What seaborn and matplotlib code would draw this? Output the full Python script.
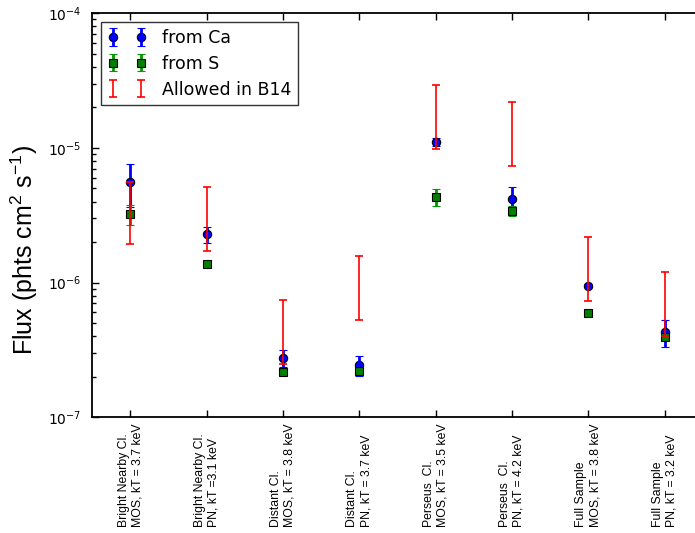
import numpy as np
import matplotlib
matplotlib.use('Agg')
import matplotlib.pyplot as plt
import matplotlib.ticker as mticker
import matplotlib.transforms as mtransforms
import seaborn as sns

# -- Data --------------------------------------------------------------------
samples = [
    'Bright Nearby Cl.\nMOS, kT = 3.7 keV',
    'Bright Nearby Cl.\nPN, kT =3.1 keV',
    'Distant Cl.\nMOS, kT = 3.8 keV',
    'Distant Cl.\nPN, kT = 3.7 keV',
    'Perseus  Cl.\nMOS, kT = 3.5 keV',
    'Perseus  Cl.\nPN, kT = 4.2 keV',
    'Full Sample\nMOS, kT = 3.8 keV',
    'Full Sample\nPN, kT = 3.2 keV',
]

# flux inferred from Ca line, with lower / upper bounds
ca_flux = [5.62e-6, 2.29e-6, 2.77e-7, 2.45e-7, 1.11e-5, 4.18e-6, 9.50e-7, 4.33e-7]
ca_low  = [3.63e-6, 1.98e-6, 2.38e-7, 2.03e-7, 1.04e-5, 3.65e-6, 9.20e-7, 3.35e-7]
ca_high = [7.64e-6, 2.58e-6, 3.16e-7, 2.84e-7, 1.18e-5, 5.16e-6, 9.80e-7, 5.26e-7]

# flux inferred from S line
s_flux = [3.24e-6, 1.37e-6, 2.18e-7, 2.22e-7, 4.35e-6, 3.42e-6, 5.98e-7, 3.97e-7]
s_low  = [2.68e-6, 1.33e-6, 2.12e-7, 2.12e-7, 3.71e-6, 3.13e-6, 5.85e-7, 3.80e-7]
s_high = [3.76e-6, 1.41e-6, 2.24e-7, 2.32e-7, 4.99e-6, 3.72e-6, 6.11e-7, 4.14e-7]

# range allowed in B14
b14_low  = [1.93e-6, 1.71e-6, 2.48e-7, 5.26e-7, 9.78e-6, 7.39e-6, 7.28e-7, 4.02e-7]
b14_high = [5.62e-6, 5.11e-6, 7.48e-7, 1.58e-6, 2.94e-5, 2.21e-5, 2.17e-6, 1.19e-6]

# -- Style --------------------------------------------------------------------
sns.set_style('ticks')
plt.rcParams['font.family'] = ['DejaVu Sans']
plt.rcParams['mathtext.default'] = 'regular'
for key in ['text.color', 'axes.labelcolor', 'xtick.color', 'ytick.color',
            'axes.edgecolor']:
    plt.rcParams[key] = 'black'

fig = plt.figure(figsize=(6.95, 5.33), dpi=100)
ax = fig.add_axes([0.1328, 0.2171, 0.8784, 0.758])

x = np.arange(len(samples))
ca_flux = np.array(ca_flux); s_flux = np.array(s_flux)
ca_err = [ca_flux - np.array(ca_low), np.array(ca_high) - ca_flux]
s_err  = [s_flux - np.array(s_low), np.array(s_high) - s_flux]
b14_low = np.array(b14_low)
b14_err = [np.zeros_like(b14_low), np.array(b14_high) - b14_low]

ax.errorbar(x, ca_flux, yerr=ca_err, fmt='o', color='blue', ecolor='blue',
            mec='black', mew=0.8, ms=6, elinewidth=2, capsize=2.7,
            capthick=1.5, label='from Ca', zorder=3)
ax.errorbar(x, s_flux, yerr=s_err, fmt='s', color='green', mfc=(0, 0.5, 0),
            ecolor=(0, 0.6, 0), mec='black', mew=0.8, ms=6, elinewidth=2,
            capsize=2.7, capthick=1.5, label='from S', zorder=4)
ax.errorbar(x, b14_low, yerr=b14_err, fmt='none', ecolor='red',
            elinewidth=1.2, capsize=3, capthick=1.2,
            label='Allowed in B14', zorder=5)

ax.set_yscale('log')
ax.set_ylim(1e-7, 1e-4)
ax.set_xlim(-0.5, 7.5)
ax.yaxis.set_minor_locator(mticker.LogLocator(base=10, subs=np.arange(2, 10),
                                              numticks=20))
ax.yaxis.set_minor_formatter(mticker.NullFormatter())
ax.set_xticks(x)
ax.set_xticklabels([])
ax.tick_params(axis='x', which='major', direction='in', top=True,
               bottom=True, length=5, width=1)
ax.tick_params(axis='y', which='major', direction='in', left=True,
               right=False, length=5, width=1, labelsize=10, pad=8)
ax.tick_params(axis='y', which='minor', direction='in', left=True,
               right=False, length=3, width=1, color='black')
for sp in ax.spines.values():
    sp.set_color('black')
    sp.set_linewidth(1.3)

# x labels: rotated, start of lines aligned at the bottom
trans = mtransforms.blended_transform_factory(ax.transData, ax.transAxes)
for xi, lab in zip(x, samples):
    ax.text(xi, -0.2715, lab, transform=trans, rotation=90, ha='center',
            va='bottom', multialignment='left', fontsize=8.8, color='black',
            family=['Liberation Sans', 'DejaVu Sans'])

ax.set_ylabel('Flux (phts cm$^{2}$ s$^{-1}$)', fontsize=18,
              family=['Liberation Sans', 'DejaVu Sans'])
ax.yaxis.set_label_coords(-0.086, 0.414)

leg = ax.legend(loc='upper left', numpoints=2, fontsize=12.5, frameon=True,
                fancybox=False, borderaxespad=0.5, handlelength=2.2,
                handletextpad=0.9, borderpad=0.4, labelspacing=0.45)
leg.get_frame().set_edgecolor('black')
leg.get_frame().set_linewidth(1.0)
for t in leg.get_texts():
    t.set_color('black')

fig.savefig('out.png', dpi=100)
